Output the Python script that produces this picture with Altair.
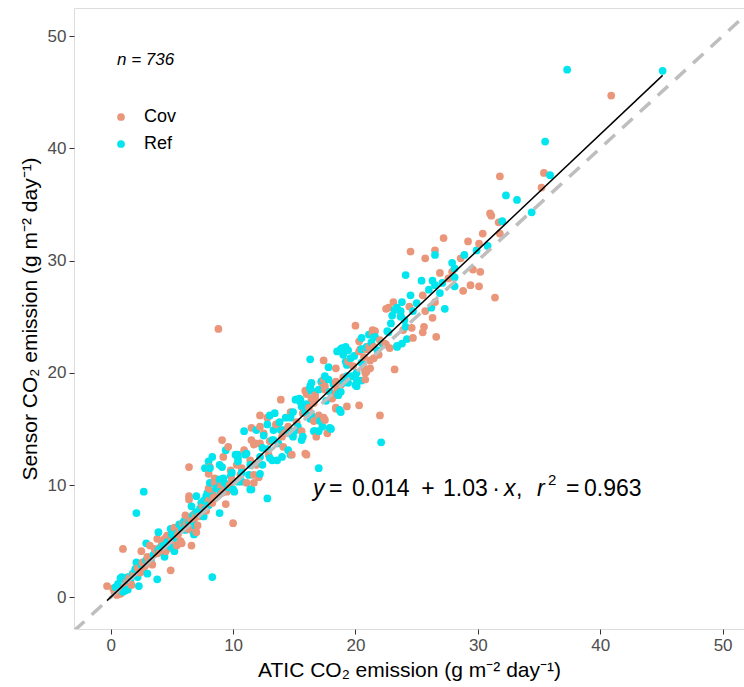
import altair as alt
import pandas as pd

FONT = "Liberation Sans"

# ---- data: (ATIC, Sensor) pairs ----
cov_points = [
    (40.9,44.7),(31.8,37.5),(35.4,37.8),(35.2,36.5),(31.0,34.2),(31.1,34.0),(31.7,33.4),(30.4,32.4),
    (31.8,32.4),(27.2,32.0),(29.2,31.7),(30.1,31.5),(24.5,30.8),(25.7,30.2),(26.5,30.9),(27.9,29.0),
    (29.6,29.2),(30.2,29.0),(28.8,27.3),(29.4,27.8),(30.1,27.7),(31.4,26.7),(25.5,26.9),(23.1,26.3),
    (26.5,26.3),(22.5,25.7),(25.7,25.5),(26.3,24.9),(24.6,24.0),(25.6,24.1),(25.5,23.6),(21.4,23.8),
    (24.7,23.1),(26.6,23.2),(22.8,22.2),(22.5,22.5),(23.2,20.3),(21.5,21.3),(22.0,16.2),(23.7,25.1),
    (20.0,24.2),(21.6,23.7),(21.4,23.5),(22.0,22.9),(22.4,22.6),(21.5,22.3),(20.9,22.1),(20.4,22.1),
    (17.4,21.1),(20.3,21.9),(20.7,21.4),(21.2,21.1),(21.2,20.4),(20.8,20.0),(17.4,19.4),(18.4,19.2),
    (18.8,18.9),(17.5,18.8),(15.9,18.4),(18.4,18.2),(16.7,18.0),(16.0,18.1),(17.3,19.1),(18.4,19.1),
    (17.5,18.5),(13.9,17.6),(16.7,17.7),(16.6,17.3),(18.4,16.9),(12.2,16.2),(14.7,16.5),(15.7,16.4),
    (17.0,16.2),(17.5,15.8),(17.7,14.6),(16.8,14.3),(13.5,15.4),(14.5,15.2),(15.6,14.8),(12.2,15.2),
    (9.1,14.0),(11.5,14.0),(11.7,13.6),(9.2,12.5),(10.9,13.1),(12.2,13.7),(14.1,13.4),(16.0,12.7),
    (8.1,11.6),(10.3,11.8),(10.7,11.5),(11.9,11.8),(10.6,10.9),(12.1,10.7),(8.5,10.6),(10.0,10.3),
    (8.0,9.7),(9.5,9.4),(6.4,11.6),(1.0,4.3),(4.9,2.4),(10.0,6.6),(-0.3,1.0),(2.5,4.1),
    (3.8,5.2),(3.8,3.9),(4.4,5.2),(5.5,5.6),(5.8,4.8),(6.6,4.6),(6.8,6.9),(6.1,7.3),
    (6.4,9.0),(8.3,9.4),(8.5,10.2),(9.1,9.3),(9.8,11.3),(9.4,8.3),(8.3,8.4),(7.0,5.8),
    (6.2,6.6),(5.4,4.6),(4.5,4.1),(3.3,3.5),(2.8,2.8),(3.1,3.2),(2.7,2.3),(1.3,1.4),
    (0.2,0.8),(0.5,0.2),(1.7,1.1),(20.3,22.8),(21.1,22.3),(19.4,21.0),(20.7,20.4),(20.9,20.1),
    (20.8,19.4),(18.4,20.4),(18.5,18.7),(16.4,17.7),(18.1,17.7),(19.3,17.0),(20.3,17.1),(18.4,16.8),
    (17.4,16.0),(16.6,15.7),(12.8,16.0),(13.6,15.4),(14.0,14.3),(12.5,14.6),(11.5,15.1),(11.8,13.7),
    (9.6,13.4),(11.4,12.2),(12.9,12.7),(14.8,12.7),(15.9,12.8),(8.0,11.0),(11.7,10.9),(9.9,10.5),
    (11.1,10.2),(11.7,10.2),(8.8,23.9),(6.4,8.7),(6.6,6.0),(22.7,25.8),
    (0.3,0.5),(0.8,0.3),(1.1,0.9),(1.5,1.7),(1.9,2.0),(2.2,2.6),(2.6,3.1),(3.0,3.6),
    (3.4,2.9),(3.6,4.3),(4.0,4.0),(4.2,4.8),(4.6,5.5),(5.0,5.1),(5.2,6.2),(5.6,5.9),
    (5.9,6.6),(6.3,6.1),(6.5,7.0),(6.9,7.5),(7.2,7.2),(7.5,8.1),(7.8,7.7),(8.0,8.6),
    (8.4,8.9),(8.7,9.0),(9.0,9.9),(9.3,9.6),(9.7,10.0),(3.2,4.6),(2.4,2.2),(4.8,4.4),
    (5.7,5.0),(7.1,6.4),(13.0,13.9),(14.2,14.6),(15.2,15.6),(16.2,16.9),(19.0,19.6),(19.8,20.6),
    (21.9,21.6),(23.9,23.8),(24.4,25.9),(27.6,28.4),(28.6,30.2),(26.9,28.9),
]

ref_points = [
    (37.3,47.0),(45.1,46.9),(35.5,40.6),(35.9,37.6),(32.3,35.8),(33.2,35.4),(34.4,34.3),(32.0,33.5),
    (26.5,30.5),(28.9,30.5),(30.8,31.3),(24.1,28.7),(25.4,28.2),(26.3,28.2),(26.5,27.8),(27.9,29.8),
    (28.1,29.3),(28.1,28.5),(28.1,27.7),(29.9,30.9),(26.9,27.1),(24.5,26.9),(23.8,26.3),(26.2,25.8),
    (27.3,25.7),(23.2,25.6),(24.7,25.5),(23.0,25.1),(23.7,25.5),(24.0,24.7),(22.7,23.6),(21.6,23.2),
    (23.4,22.4),(24.2,23.0),(22.2,22.6),(22.1,13.8),(23.4,25.8),(24.1,24.1),(20.5,23.1),(21.3,22.7),
    (23.8,22.6),(23.4,22.3),(18.8,22.1),(19.2,22.3),(20.5,22.1),(20.9,22.3),(16.3,21.2),(17.8,20.5),
    (19.2,21.0),(19.3,20.7),(20.1,20.0),(19.7,19.7),(19.3,19.7),(17.3,19.3),(17.8,19.4),(19.4,19.1),
    (20.1,19.4),(20.5,19.3),(16.3,18.8),(16.4,19.1),(15.4,17.7),(18.5,21.9),(17.5,19.7),(16.4,18.4),
    (17.0,18.5),(17.9,18.3),(15.5,17.6),(15.6,17.0),(13.0,16.2),(14.9,16.5),(14.7,16.0),(16.3,15.9),
    (17.1,15.7),(16.6,14.8),(17.0,14.8),(18.0,15.0),(12.8,15.4),(13.3,14.9),(13.9,14.9),(14.6,14.6),
    (14.9,14.3),(15.7,14.3),(12.5,14.4),(10.9,14.8),(9.4,13.1),(8.3,12.5),(10.4,12.7),(11.1,12.8),
    (12.8,13.2),(13.3,14.0),(13.7,13.7),(14.5,13.1),(14.7,12.7),(13.0,12.4),(13.6,12.2),(7.7,11.5),
    (8.9,11.8),(11.4,11.8),(12.4,11.8),(9.9,11.1),(11.3,10.9),(17.0,11.5),(9.2,10.6),(10.7,10.3),
    (11.4,9.6),(7.8,9.0),(8.9,9.9),(10.0,9.6),(12.8,8.8),(8.0,12.1),(2.7,9.4),(2.1,7.5),
    (8.3,1.8),(3.8,1.6),(0.8,1.7),(2.9,4.8),(3.9,5.8),(4.9,6.1),(5.3,5.3),(6.1,6.0),
    (6.1,6.4),(6.9,6.4),(7.7,7.8),(7.4,8.4),(8.1,10.2),(8.9,10.5),(10.1,9.4),(10.7,11.1),
    (10.4,12.4),(7.0,9.0),(7.9,9.3),(8.9,7.5),(7.6,7.2),(6.8,5.6),(5.8,6.1),(5.1,5.8),
    (4.9,4.5),(4.1,4.5),(2.1,3.1),(2.0,2.5),(1.4,1.8),(0.9,1.8),(0.6,1.2),(1.0,0.5),
    (1.4,0.7),(2.3,1.0),(22.6,23.7),(23.7,25.0),(21.1,23.4),(21.5,23.2),(18.9,22.2),(19.4,22.0),
    (19.6,21.3),(20.5,20.9),(20.0,18.9),(19.0,19.1),(17.2,19.2),(18.8,18.3),(18.6,18.0),(18.7,16.7),
    (15.1,17.6),(15.5,17.4),(15.9,16.5),(16.4,16.2),(17.3,15.2),(17.9,15.1),(16.7,14.8),(15.6,14.0),
    (15.0,14.8),(14.3,16.0),(13.4,16.4),(14.1,14.9),(13.2,14.0),(11.9,14.9),(12.4,13.3),(11.0,12.7),
    (10.2,12.7),(10.4,12.1),(12.2,12.5),(13.2,12.2),(14.0,12.5),(8.1,11.5),(9.1,11.6),(12.2,11.0),
    (10.4,10.3),(19.0,21.6),(20.1,18.8),(18.6,18.1),(18.8,16.5),(16.3,18.6),(11.5,9.6),
    (0.4,0.9),(1.2,1.5),(1.6,1.4),(1.8,2.1),(2.2,1.8),(2.5,2.9),(2.9,3.3),(3.3,3.1),
    (3.5,3.8),(3.9,4.2),(4.3,4.6),(4.6,4.9),(5.0,5.6),(5.4,5.7),(5.6,6.5),(6.0,6.8),
    (6.4,6.7),(6.7,7.3),(7.0,7.6),(7.3,7.9),(7.6,8.6),(8.0,8.2),(8.3,9.0),(8.6,9.7),
    (9.0,9.4),(9.3,10.2),(9.6,9.8),(9.8,10.8),(4.4,3.6),(6.6,8.1),(5.2,4.1),(1.2,0.6),
    (3.0,2.1),(13.8,15.6),(15.3,15.2),(16.0,17.2),(17.6,17.5),(18.2,19.0),(19.9,21.5),(21.8,22.0),
    (22.9,24.4),(25.0,26.2),(26.0,27.4),(27.1,28.0),
]

groups = ["Cov", "Ref"]
group_colors = ["#E9967A", "#00E5EE"]

fit_x = [-0.3, 45.1]          # fitted line end points
fit_y = [-0.3, 46.5]
one_to_one = [-3.0, 52.0]     # 1:1 reference line

x_ticks = [0, 10, 20, 30, 40, 50]
y_ticks = [0, 10, 20, 30, 40, 50]
x_domain = [-3.0, 51.75]
y_domain = [-2.83, 52.5]

# ---- tables ----
rows = []
for (x, y) in cov_points:
    rows.append({"x": x, "y": y, "group": "Cov"})
for (x, y) in ref_points:
    rows.append({"x": x, "y": y, "group": "Ref"})
pts = pd.DataFrame(rows).sort_values("x", kind="stable").reset_index(drop=True)
fit = pd.DataFrame({"x": fit_x, "y": fit_y})
diag = pd.DataFrame({"x": one_to_one, "y": one_to_one})
one = pd.DataFrame({"k": [0]})

xs = alt.Scale(domain=x_domain, nice=False, zero=False)
ys = alt.Scale(domain=y_domain, nice=False, zero=False)

axis_common = dict(
    domain=False, grid=False, ticks=True, tickSize=5, tickColor="#333333", tickWidth=1,
    labelColor="#4D4D4D", labelFont=FONT, labelFontSize=17,
    titleFont=FONT, titleFontSize=21, titleColor="black", titleFontWeight="normal",
)

PT = 60

points = alt.Chart(pts).mark_circle(size=PT, opacity=1).encode(
    x=alt.X("x:Q", scale=xs,
            axis=alt.Axis(values=x_ticks, title="ATIC CO₂ emission (g m⁻² day⁻¹)",
                          labelPadding=3, titlePadding=6, **axis_common)),
    y=alt.Y("y:Q", scale=ys,
            axis=alt.Axis(values=y_ticks, title="Sensor CO₂ emission (g m⁻² day⁻¹)",
                          labelPadding=3, titlePadding=7, **axis_common)),
    color=alt.Color("group:N",
                    scale=alt.Scale(domain=groups, range=group_colors),
                    legend=alt.Legend(title=None, orient="none", legendX=38, legendY=100,
                                      labelFont=FONT, labelFontSize=18, labelColor="black",
                                      symbolSize=PT, symbolType="circle", symbolStrokeWidth=0,
                                      rowPadding=9, labelOffset=14, padding=0)),
)

diag_line = alt.Chart(diag).mark_line(
    color="#BEBEBE", strokeWidth=3.5, strokeDash=[14, 10], clip=True
).encode(x=alt.X("x:Q", scale=xs), y=alt.Y("y:Q", scale=ys))

fit_line = alt.Chart(fit).mark_line(color="black", strokeWidth=1.5).encode(
    x=alt.X("x:Q", scale=xs), y=alt.Y("y:Q", scale=ys))


def label(txt, px, py, size, style="normal", align="left"):
    return alt.Chart(one).mark_text(
        text=txt, align=align, baseline="alphabetic", font=FONT,
        fontSize=size, fontStyle=style, color="black"
    ).encode(x=alt.value(px), y=alt.value(py))


EQ_Y = 488
EQ_F = 23
annotations = [
    label("n = 736", 43, 57, 17, "italic"),
    label("y", 239, EQ_Y, EQ_F, "italic"),
    label("=", 255, EQ_Y, EQ_F),
    label("0.014", 278, EQ_Y, EQ_F),
    label("+", 354, EQ_Y, EQ_F, align="center"),
    label("1.03", 369, EQ_Y, EQ_F),
    label("·", 422, EQ_Y, EQ_F, align="center"),
    label("x", 430, EQ_Y, EQ_F, "italic"),
    label(",", 442, EQ_Y, EQ_F),
    label("r", 463, EQ_Y, EQ_F, "italic"),
    label("2", 474, 477, 15),
    label("=", 492, EQ_Y, EQ_F),
    label("0.963", 510, EQ_Y, EQ_F),
]

chart = alt.layer(points, diag_line, fit_line, *annotations).properties(
    width=670, height=621,
    autosize=alt.AutoSizeParams(type="none"),
    padding={"left": 74, "top": 8, "right": 0, "bottom": 58},
).configure_view(stroke="#333333", strokeWidth=1).configure(background="white")

chart.save("out.html", embed_options={"renderer": "svg", "actions": False})
